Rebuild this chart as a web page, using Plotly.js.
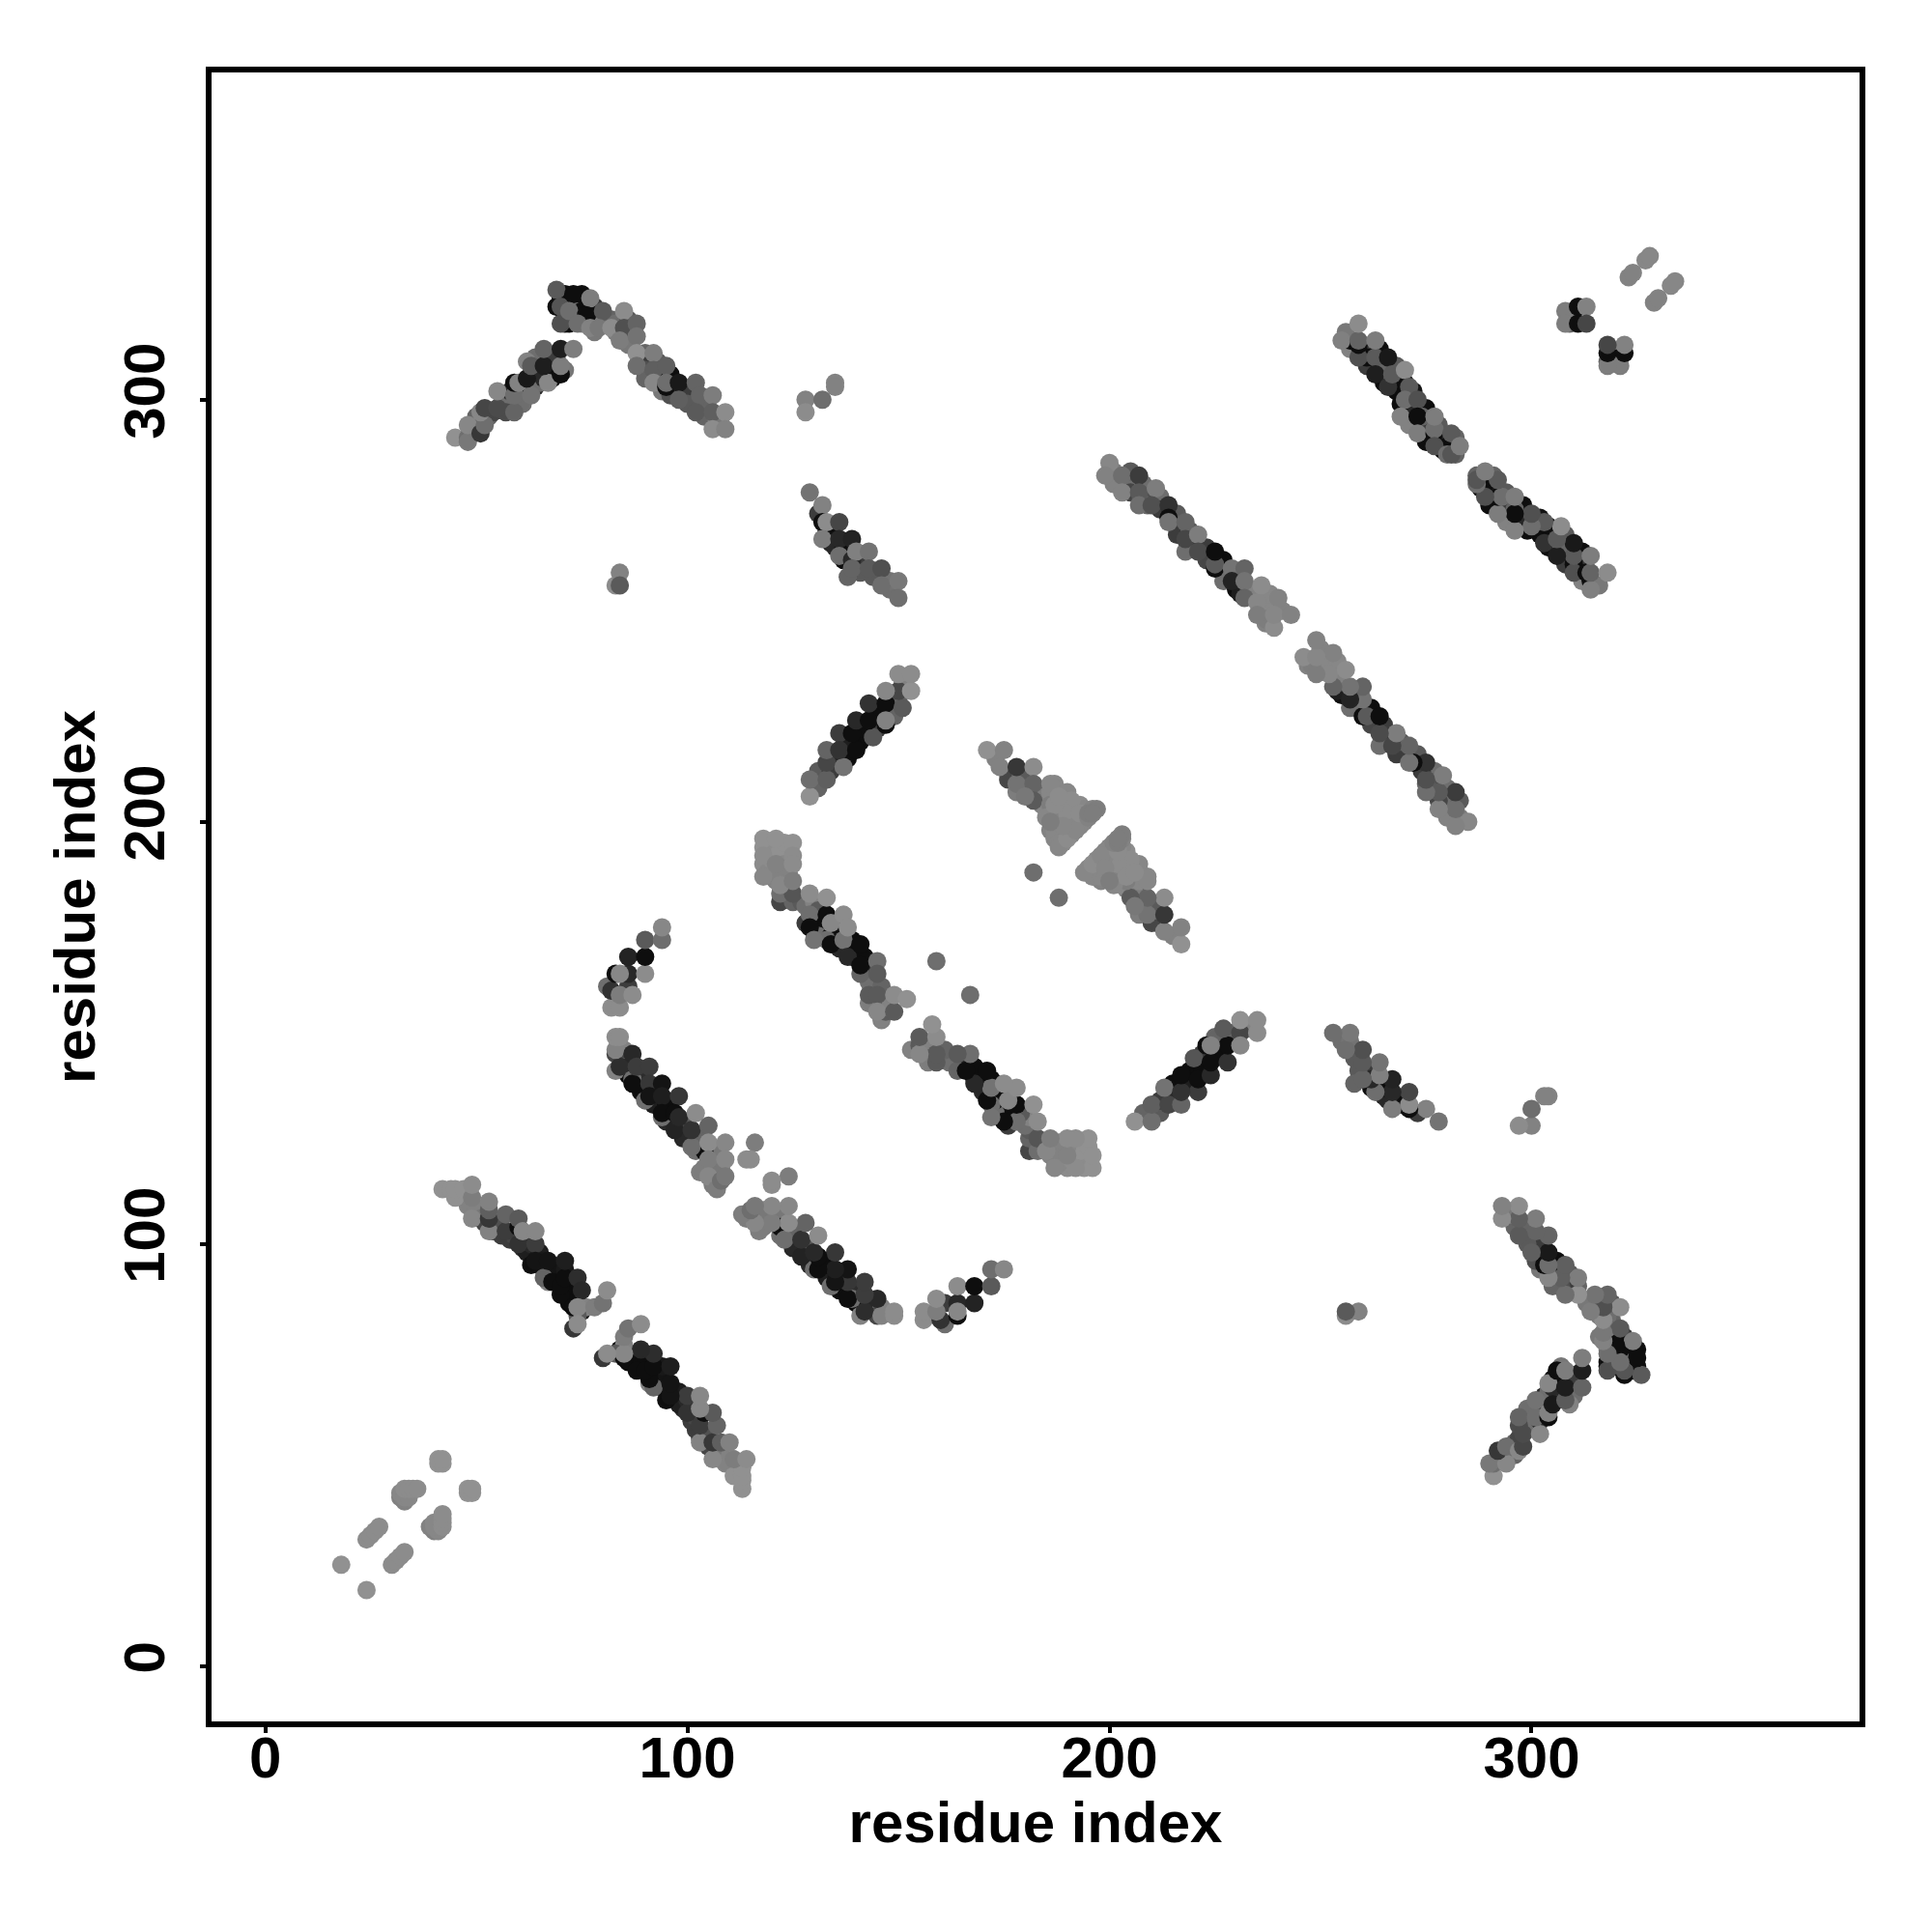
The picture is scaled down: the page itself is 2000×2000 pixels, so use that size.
<!DOCTYPE html>
<html><head><meta charset="utf-8">
<script src="https://cdn.plot.ly/plotly-3.0.1.min.js"></script>
<style>html,body{margin:0;padding:0;background:#fff}</style></head>
<body><div id="chart" style="width:2000px;height:2000px"></div>
<script>
// each contact: [residue i, residue j, grey level]; the map is symmetric so each is drawn at (i,j) and (j,i)
// "under" lists hold the contacts that are mostly hidden beneath the ones on top
const underA=[[46,112,140],[47,111,140],[48,109,130],[50,108,130],[51,106,120],[52,105,70],[54,103,75],[55,105,80],[56,102,60],[58,101,60],[59,102,70],[61,99,40],[62,98,30],[63,100,40],[65,98,30],[66,94,50],[67,94,14],[68,93,14],[69,92,20],[72,90,14],[73,88,20],[72,88,14],[69,94,20],[75,84,14],[76,85,130],[74,83,90],[72,86,14],[71,94,25],[66,96,25]];
const underB=[[85,143,40],[85,146,130],[86,141,40],[86,140,14],[88,138,14],[89,140,45],[89,136,14],[92,136,14],[93,133,14],[92,133,30],[95,133,14],[96,129,14],[95,129,40],[99,128,30],[99,125,40],[100,129,90],[102,126,14],[103,125,100],[102,122,110],[104,118,125],[106,118,130],[107,122,135],[108,118,130],[107,117,120],[106,114,125],[103,117,125],[106,122,120]];
const underD=[[118,194,145],[118,190,140],[119,188,135],[120,193,140],[120,191,140],[122,193,145],[122,188,130],[123,195,145],[123,190,135],[123,186,130],[124,188,130],[120,187,135],[121,186,130],[122,181,70],[125,181,100],[124,184,120],[127,181,90],[128,180,110],[128,176,60],[130,181,130],[131,179,90],[131,176,14],[132,174,14],[131,173,110],[134,173,14],[136,174,14],[135,172,14],[133,172,110],[136,170,40],[139,172,14],[139,168,14],[140,169,14],[142,168,14],[143,165,40],[143,162,110],[143,157,125],[143,159,90],[147,157,100],[146,153,130],[147,155,90],[147,159,135],[148,156,130],[146,161,100]];
const underE=[[131,208,100],[131,212,90],[134,212,60],[135,215,40],[138,215,14],[138,219,30],[141,219,14],[142,221,14],[141,222,14],[145,222,60],[145,226,14],[148,226,14],[149,229,60],[149,225,100],[151,233,130],[150,229,100]];
const underF=[[173,215,130],[176,211,130],[176,210,70],[179,211,100],[180,210,90],[180,208,100],[184,207,100],[178,207,125],[183,206,125],[184,204,130],[186,207,135],[187,209,135],[190,207,135],[185,203,135],[186,202,135],[186,198,130],[187,202,135],[187,200,130],[187,196,135],[188,203,135],[188,199,130],[188,197,130],[189,201,135],[189,197,135],[189,195,135],[190,204,140],[190,200,135],[191,203,135],[191,201,135],[191,199,130],[191,197,135],[192,204,140],[192,202,135],[193,200,135],[193,204,140],[193,199,135],[194,203,135],[194,201,135],[194,200,135],[196,203,130],[197,203,125]];
const underG=[[50,293,70],[50,296,100],[53,296,100],[54,297,70],[56,299,100],[57,300,110],[57,297,75],[58,302,40],[60,302,20],[61,299,110],[61,303,14],[64,303,40],[64,306,25],[65,304,110],[66,305,40],[68,307,30],[68,309,30],[68,305,14],[69,310,60],[64,310,110],[71,307,120],[71,320,14],[70,324,14],[71,325,14],[71,318,14],[72,318,14],[73,320,14],[74,322,110],[75,325,14],[75,321,14],[75,318,130],[78,322,60],[78,320,14],[78,316,120],[80,318,125],[82,319,100],[83,316,125],[83,318,110],[86,319,90],[86,315,110],[86,313,120],[90,311,100],[89,309,60],[90,307,80],[90,305,100],[93,309,90],[93,305,14],[94,306,14],[96,306,14],[94,302,120],[97,303,40],[96,301,80],[100,302,60],[100,299,90],[104,299,100],[104,296,100],[107,295,130],[108,296,120]];
const underI=[[131,273,60],[133,269,60],[134,269,14],[134,266,40],[135,265,40],[137,265,14],[137,262,14],[138,263,14],[141,262,60],[141,259,90],[138,258,100],[144,258,90],[148,255,110],[148,257,115]];
const underK=[[201,283,125],[201,280,130],[205,280,110],[205,278,70],[205,283,90],[208,280,110],[209,277,80],[209,275,100],[212,277,110],[212,274,60],[216,273,90],[216,270,60],[216,268,60],[219,269,90],[219,265,70],[220,266,50],[223,262,70],[223,265,60],[227,262,14],[227,259,30],[227,257,110],[230,258,35],[230,255,14],[231,254,30],[233,255,60],[234,254,130],[236,250,135],[237,247,130],[238,252,135],[237,248,125],[241,250,130],[238,254,135]];
const underL=[[257,312,130],[257,314,14],[256,316,120],[261,312,60],[261,308,60],[261,310,14],[264,312,14],[264,308,14],[265,304,14],[265,307,100],[268,304,100],[268,302,14],[268,308,90],[270,304,14],[271,298,40],[272,302,20],[271,294,130],[275,298,14],[275,294,60],[275,290,14],[274,296,100],[279,291,60],[279,288,14],[278,294,90],[282,291,100],[280,289,14],[282,287,100],[310,321,125],[309,318,100]];
const bandShort=[[18,24,145],[24,30,140],[25,31,140],[26,32,140],[27,33,140],[32,40,128],[33,39,130],[32,41,135],[33,40,135],[34,40,135],[33,42,140],[34,42,140],[35,42,140],[36,42,140],[41,48,145],[42,48,145],[41,49,145],[42,49,145]];
const bandA=[[42,113,145],[44,113,145],[45,111,145],[45,113,145],[47,113,145],[49,106,135],[49,111,125],[49,114,140],[53,103,130],[53,106,55],[53,108,95],[53,110,130],[57,103,60],[57,107,100],[60,100,50],[60,104,14],[60,106,90],[63,95,14],[64,100,60],[61,103,135],[64,103,135],[67,91,130],[66,92,100],[64,96,20],[67,96,20],[68,91,14],[70,88,14],[70,90,14],[71,92,14],[74,92,45],[71,96,30],[75,89,40],[73,85,14],[74,85,135],[73,80,55],[74,81,140],[78,85,125],[80,86,115],[81,89,140]];
const bandB=[[83,141,130],[83,145,70],[84,142,45],[83,146,130],[83,149,140],[84,149,140],[87,145,40],[87,139,110],[87,138,14],[88,142,60],[91,142,60],[91,138,55],[94,138,20],[90,134,110],[91,135,20],[94,135,30],[94,130,110],[94,131,14],[98,135,55],[97,127,35],[97,131,14],[98,130,40],[104,122,14],[101,123,110],[101,127,50],[102,131,140],[105,128,100],[105,124,140],[105,120,125],[109,124,135],[109,120,135],[105,116,135],[107,113,125],[108,115,110],[109,116,120],[116,124,125],[114,120,140],[115,120,140]];
const bandC=[[82,156,140],[84,156,140],[81,161,110],[82,160,50],[86,161,60],[83,164,14],[86,164,40],[84,159,125],[87,159,140],[84,164,135],[86,168,35],[90,164,140],[90,168,14],[90,172,90],[94,172,110],[94,175,135]];
const bandD=[[118,196,145],[121,196,145],[125,195,145],[118,192,140],[118,187,135],[121,190,130],[125,192,140],[125,190,140],[122,183,110],[125,183,85],[122,185,135],[125,186,125],[129,178,110],[129,175,14],[133,178,14],[129,183,140],[133,182,145],[130,172,115],[134,171,14],[134,176,135],[137,178,140],[137,172,115],[138,175,140],[138,168,40],[141,171,14],[141,164,100],[141,166,14],[145,167,110],[145,164,90],[145,159,90],[145,155,135],[149,155,90],[149,159,140],[152,158,145],[159,167,110]];
const bandE=[[129,206,145],[129,210,110],[133,210,95],[133,214,70],[133,217,100],[137,213,115],[136,221,60],[136,217,50],[140,217,14],[139,221,14],[140,224,40],[144,220,85],[143,224,14],[143,228,50],[147,228,14],[147,223,14],[147,224,130],[151,227,90],[150,231,70],[147,231,135],[153,231,145],[150,235,140],[153,235,140]];
const bandF=[[171,217,145],[175,217,130],[174,213,130],[178,209,115],[178,213,55],[182,213,140],[182,209,100],[182,205,90],[180,206,120],[186,209,135],[186,204,125],[185,201,135],[187,198,135],[188,195,135],[188,194,135],[189,205,140],[188,201,130],[190,198,125],[190,196,140],[191,205,140],[190,202,140],[192,199,135],[192,198,135],[193,202,140],[195,201,130],[195,202,125],[196,202,125],[187,204,140],[189,199,135],[188,206,140],[186,200,125],[182,188,110]];
const bandG=[[45,291,145],[48,291,110],[48,290,120],[48,294,135],[51,292,55],[52,294,110],[51,297,135],[52,298,70],[55,298,75],[59,297,100],[55,302,135],[59,301,110],[63,301,115],[59,304,14],[60,304,130],[62,305,25],[67,304,135],[62,309,130],[63,308,90],[66,308,30],[70,306,14],[70,308,125],[66,312,100],[70,312,30],[73,312,125],[69,322,14],[69,326,90],[70,322,85],[70,318,80],[73,325,14],[72,321,110],[77,324,125],[76,320,14],[74,318,110],[77,317,130],[80,321,90],[79,317,120],[82,317,140],[85,321,140],[85,317,80],[88,318,100],[84,314,125],[88,315,115],[88,311,145],[92,311,125],[88,308,110],[92,307,95],[95,308,95],[92,304,135],[95,303,14],[95,304,110],[98,304,25],[102,304,100],[98,300,95],[103,301,100],[106,301,125],[102,297,90],[106,297,95],[109,297,140],[106,293,140],[109,293,130]];
const bandH=[[128,300,130],[128,297,140],[132,300,110],[135,304,130],[135,303,130]];
const bandI=[[129,278,115],[132,275,130],[132,271,14],[133,271,140],[136,271,70],[132,267,125],[136,267,40],[136,263,110],[139,267,35],[139,262,40],[140,264,128],[143,264,115],[139,260,100],[143,260,90],[146,260,80],[146,256,110],[150,257,120],[150,253,110]];
const bandJ=[[83,256,140],[84,259,130],[84,256,90]];
const bandK=[[200,285,135],[199,282,130],[203,282,110],[207,282,60],[203,278,130],[207,278,90],[207,275,110],[211,279,125],[210,275,80],[214,275,50],[214,272,14],[214,271,115],[218,271,100],[218,264,110],[218,267,70],[221,268,125],[221,264,75],[225,260,14],[225,261,90],[225,264,14],[229,260,115],[232,260,100],[229,257,35],[232,257,115],[232,253,100],[235,252,135],[236,256,140],[240,253,130],[235,249,125],[239,246,140],[239,249,135],[243,249,130]];
const bandL=[[255,314,128],[259,310,80],[259,313,14],[259,314,100],[259,318,140],[263,310,90],[263,306,30],[263,314,125],[266,310,25],[266,303,50],[267,306,90],[270,307,140],[271,303,90],[269,299,14],[270,300,110],[273,300,80],[269,296,130],[273,296,14],[273,292,125],[277,292,14],[277,293,110],[277,296,125],[277,289,80],[281,292,90],[280,287,110],[281,287,85],[283,289,125]];
const bandM=[[308,321,125],[308,318,125],[311,318,14],[311,322,14],[313,322,130],[313,318,70]];
const bandN=[[323,329,130],[324,330,130],[327,333,135],[328,334,135]];
const tickValues=[0,100,200,300];
const axisLabel="residue index";

const contacts=[].concat(underA,underB,underD,underE,underF,underG,underI,underK,underL,bandShort,bandA,bandB,bandC,bandD,bandE,bandF,bandG,bandH,bandI,bandJ,bandK,bandL,bandM,bandN);
const xs=[],ys=[],cs=[];
contacts.forEach(c=>{const g='rgb('+c[2]+','+c[2]+','+c[2]+')';xs.push(c[0]);ys.push(c[1]);cs.push(g);});
contacts.forEach(c=>{const g='rgb('+c[2]+','+c[2]+','+c[2]+')';xs.push(c[1]);ys.push(c[0]);cs.push(g);});
const F="'Liberation Sans', Arial, sans-serif";
function ax(range,labelShift,standoff){return {range:range,tickvals:tickValues,ticktext:tickValues.map(String),ticks:'outside',ticklen:6,tickwidth:4,tickcolor:'#000',ticklabelstandoff:labelShift,showline:true,mirror:true,linewidth:6,linecolor:'#000',showgrid:false,zeroline:false,tickfont:{family:F,size:60,color:'#000',weight:700},title:{text:axisLabel,standoff:standoff,font:{family:F,size:60,color:'#000',weight:700}}};}
const xa=ax([-12.72,377.7],-26,3);
const ya=ax([-13.1,377.5],13,0);ya.tickangle=-90;
Plotly.newPlot('chart',[{type:'scatter',mode:'markers',x:xs,y:ys,marker:{size:19,color:cs,line:{width:0}},hoverinfo:'skip'}],
{width:2000,height:2000,margin:{l:219,r:75,t:75,b:218,pad:0},paper_bgcolor:'#fff',plot_bgcolor:'#fff',showlegend:false,xaxis:xa,yaxis:ya},{displayModeBar:false,staticPlot:true});
</script></body></html>
